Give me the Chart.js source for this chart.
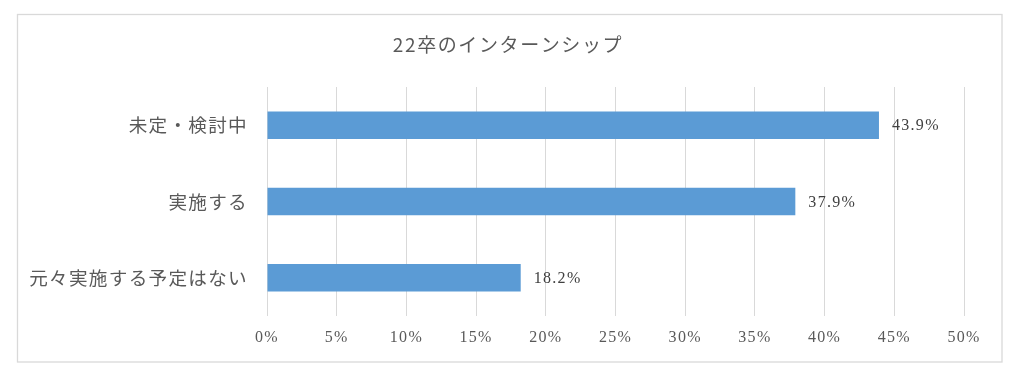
<!DOCTYPE html>
<html>
<head>
<meta charset="utf-8">
<script src="https://cdn.jsdelivr.net/npm/chart.js@4/dist/chart.umd.min.js"></script>
<style>
  html, body { margin: 0; padding: 0; background: #fff; }
  #wrap { position: relative; width: 1024px; height: 379px; }
</style>
</head>
<body>
<div id="wrap"><canvas id="c" width="1024" height="379"></canvas></div>
<script>
const titleText = "22卒のインターンシップ";
const categories = ["未定・検討中", "実施する", "元々実施する予定はない"];
const values = [43.9, 37.9, 18.2];
const valueLabels = ["43.9%", "37.9%", "18.2%"];
const xMin = 0, xMax = 50, xStep = 5;

const TEXT = "#595959";
const SERIF = "'Liberation Serif', 'Noto Sans CJK JP', serif";
const JP = "'Noto Sans CJK JP', 'Liberation Serif', sans-serif";

const spacingPlugin = {
  id: "spacing",
  beforeLayout(chart) { chart.ctx.letterSpacing = "1.3px"; },
  beforeDraw(chart) { chart.ctx.letterSpacing = "1.3px"; }
};

const framePlugin = {
  id: "frame",
  beforeDraw(chart) {
    const ctx = chart.ctx;
    ctx.save();
    ctx.fillStyle = "#ffffff";
    ctx.fillRect(0, 0, chart.width, chart.height);
    ctx.strokeStyle = "#d9d9d9";
    ctx.lineWidth = 1.3;
    ctx.strokeRect(17.5, 14.5, 984.5, 347.5);
    ctx.restore();
  }
};

const titlePlugin = {
  id: "customTitle",
  afterDraw(chart) {
    const ctx = chart.ctx;
    ctx.save();
    ctx.letterSpacing = "1.6px";
    ctx.font = "19px " + JP;
    ctx.fillStyle = TEXT;
    ctx.textAlign = "center";
    ctx.textBaseline = "middle";
    ctx.fillText(titleText, 508, 45);
    ctx.restore();
  }
};

const labelPlugin = {
  id: "valueLabels",
  afterDatasetsDraw(chart) {
    const ctx = chart.ctx;
    const meta = chart.getDatasetMeta(0);
    ctx.save();
    ctx.font = "16px " + SERIF;
    ctx.fillStyle = "#404040";
    ctx.textAlign = "left";
    ctx.textBaseline = "middle";
    meta.data.forEach((bar, i) => {
      ctx.fillText(valueLabels[i], bar.x + 13, bar.y + 1);
    });
    ctx.restore();
  }
};

new Chart(document.getElementById("c"), {
  type: "bar",
  data: {
    labels: categories,
    datasets: [{
      data: values,
      backgroundColor: "#5b9bd5",
      borderWidth: 0,
      categoryPercentage: 1.0,
      barPercentage: 0.36
    }]
  },
  options: {
    indexAxis: "y",
    responsive: false,
    animation: false,
    devicePixelRatio: 1,
    layout: { padding: { left: 0, top: 87, right: 60, bottom: 0 } },
    plugins: {
      legend: { display: false },
      tooltip: { enabled: false },
      title: { display: false }
    },
    scales: {
      x: {
        min: xMin,
        max: xMax,
        border: { display: false },
        grid: { color: "#d9d9d9", lineWidth: 1, drawTicks: false },
        ticks: {
          stepSize: xStep,
          padding: 12,
          color: TEXT,
          font: { family: SERIF, size: 16 },
          callback: v => v + "%"
        },
        afterFit(scale) { scale.height = 63; }
      },
      y: {
        border: { display: false },
        grid: { display: false, drawTicks: false },
        ticks: {
          padding: 19,
          color: TEXT,
          font: { family: JP, size: 18.6 }
        },
        afterFit(scale) { scale.width = 267; }
      }
    }
  },
  plugins: [spacingPlugin, framePlugin, labelPlugin, titlePlugin]
});
</script>
</body>
</html>
